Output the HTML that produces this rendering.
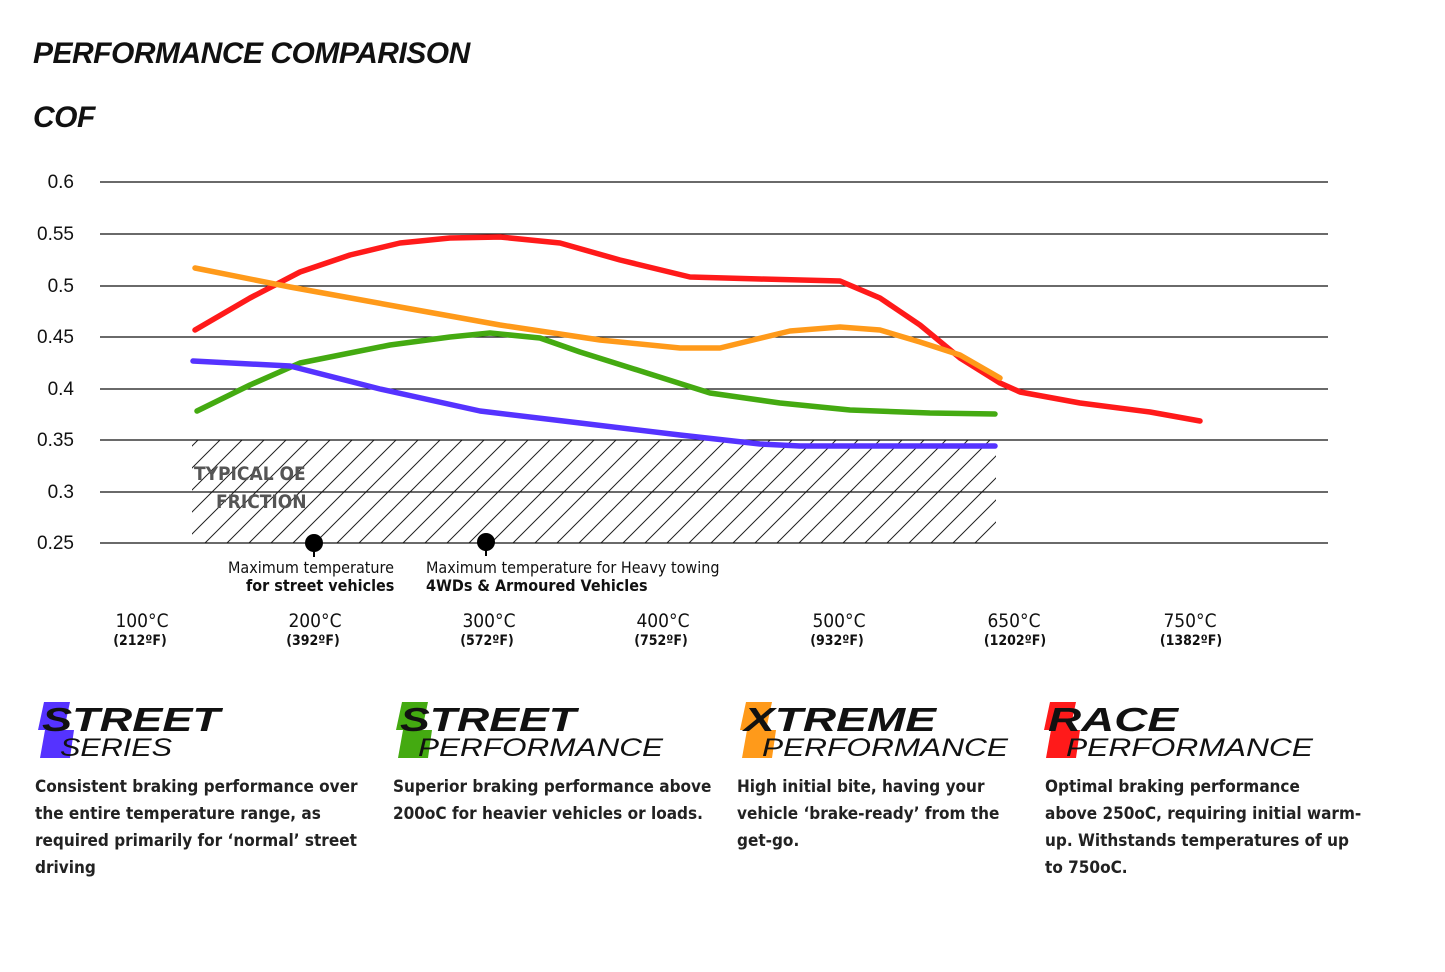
<!DOCTYPE html>
<html><head><style>
body{margin:0;width:1445px;height:972px;background:#fff;font-family:"Liberation Sans",sans-serif;overflow:hidden;position:relative}
.t{position:absolute;font-weight:bold;font-style:italic;font-size:30px;color:#111;letter-spacing:-0.5px}
.desc{position:absolute;font-size:17px;font-weight:bold;color:#222;line-height:27px;font-family:"DejaVu Sans Condensed","Liberation Sans Narrow","Liberation Sans",sans-serif}
</style></head><body>
<div class="t" style="left:33px;top:37px">PERFORMANCE COMPARISON</div>
<div class="t" style="left:33px;top:101px">COF</div>
<svg width="1445" height="972" style="position:absolute;left:0;top:0">
<defs><pattern id="h" width="22" height="22" patternUnits="userSpaceOnUse"><path d="M-2,24 L24,-2 M-24,24 L2,-2 M20,24 L46,-2" stroke="#222" stroke-width="1"/></pattern></defs>
<rect x="192" y="440" width="804" height="103" fill="url(#h)"/>
<g stroke="#111" stroke-width="1.2">
<line x1="100" x2="1328" y1="182" y2="182"/><line x1="100" x2="1328" y1="234" y2="234"/><line x1="100" x2="1328" y1="286" y2="286"/><line x1="100" x2="1328" y1="337" y2="337"/><line x1="100" x2="1328" y1="389" y2="389"/><line x1="100" x2="1328" y1="440" y2="440"/><line x1="100" x2="1328" y1="492" y2="492"/><line x1="100" x2="1328" y1="543" y2="543"/></g>
<g font-family="Liberation Sans" font-size="19" fill="#111" text-anchor="end">
<text x="74" y="188">0.6</text><text x="74" y="240">0.55</text><text x="74" y="292">0.5</text><text x="74" y="343">0.45</text><text x="74" y="395">0.4</text><text x="74" y="446">0.35</text><text x="74" y="498">0.3</text><text x="74" y="549">0.25</text></g>
<g font-family="DejaVu Sans Condensed,Liberation Sans" font-weight="bold" font-size="19" fill="#555"><text x="194" y="480">TYPICAL OE</text><text x="216" y="508">FRICTION</text></g>
<g fill="none" stroke-width="5.5" stroke-linecap="round" stroke-linejoin="round">
<polyline stroke="#ff1a1a" points="195,330 250,298 300,272 350,255 400,243 450,238 500,237 560,243 620,260 690,277 760,279 840,281 880,298 920,325 960,358 1000,383 1020,392 1080,403 1150,412 1200,421"/>
<polyline stroke="#ff9a1a" points="195,268 290,287 400,307 500,325 600,340 680,348 720,348 790,331 840,327 880,330 920,342 960,355 1000,378"/>
<polyline stroke="#44aa11" points="197,411 250,385 300,363 390,345 450,337 490,333 540,338 580,352 650,374 710,393 780,403 850,410 930,413 995,414"/>
<polyline stroke="#5533ff" points="193,361 290,366 380,389 480,411 580,423 680,435 760,444 800,446 995,446"/>
</g>
<circle cx="314" cy="543" r="9" fill="#000"/><line x1="314" y1="543" x2="314" y2="557" stroke="#000" stroke-width="2"/>
<circle cx="486" cy="542" r="9" fill="#000"/><line x1="486" y1="542" x2="486" y2="556" stroke="#000" stroke-width="2"/>
<g font-family="DejaVu Sans Condensed,Liberation Sans" font-size="16" fill="#111">
<text x="228" y="573">Maximum temperature</text><text x="246" y="591" font-weight="bold">for street vehicles</text>
<text x="426" y="573">Maximum temperature for Heavy towing</text><text x="426" y="591" font-weight="bold">4WDs &amp; Armoured Vehicles</text></g>
<g font-family="DejaVu Sans Condensed,Liberation Sans" fill="#111" text-anchor="middle">
<g font-size="19"><text x="142" y="627">100°C</text><text x="315" y="627">200°C</text><text x="489" y="627">300°C</text><text x="663" y="627">400°C</text><text x="839" y="627">500°C</text><text x="1014" y="627">650°C</text><text x="1190" y="627">750°C</text></g>
<g font-size="14" font-weight="bold"><text x="140" y="645">(212ºF)</text><text x="313" y="645">(392ºF)</text><text x="487" y="645">(572ºF)</text><text x="661" y="645">(752ºF)</text><text x="837" y="645">(932ºF)</text><text x="1015" y="645">(1202ºF)</text><text x="1191" y="645">(1382ºF)</text></g></g>
<g>
<polygon points="44,702 70,702 64,730 74,730 70,758 40,758 45,730 38,730" fill="#5533ff"/>
<polygon points="402,702 428,702 422,730 432,730 428,758 398,758 403,730 396,730" fill="#44aa11"/>
<polygon points="746,702 772,702 766,730 776,730 772,758 742,758 747,730 740,730" fill="#ff9a1a"/>
<polygon points="1050,702 1076,702 1070,730 1080,730 1076,758 1046,758 1051,730 1044,730" fill="#ff1a1a"/>
</g>
<g font-family="Liberation Sans" font-style="italic" fill="#111">
<g font-weight="bold" font-size="33"><text x="42" y="731" textLength="178" lengthAdjust="spacingAndGlyphs">STREET</text><text x="400" y="731" textLength="176" lengthAdjust="spacingAndGlyphs">STREET</text><text x="744" y="731" textLength="192" lengthAdjust="spacingAndGlyphs">XTREME</text><text x="1048" y="731" textLength="130" lengthAdjust="spacingAndGlyphs">RACE</text></g>
<g font-size="25"><text x="60" y="756" textLength="112" lengthAdjust="spacingAndGlyphs">SERIES</text><text x="418" y="756" textLength="245" lengthAdjust="spacingAndGlyphs">PERFORMANCE</text><text x="762" y="756" textLength="246" lengthAdjust="spacingAndGlyphs">PERFORMANCE</text><text x="1066" y="756" textLength="247" lengthAdjust="spacingAndGlyphs">PERFORMANCE</text></g></g>
</svg>
<div class="desc" style="left:35px;top:774px">Consistent braking performance over<br>the entire temperature range, as<br>required primarily for ‘normal’ street<br>driving</div>
<div class="desc" style="left:393px;top:774px">Superior braking performance above<br>200oC for heavier vehicles or loads.</div>
<div class="desc" style="left:737px;top:774px">High initial bite, having your<br>vehicle ‘brake-ready’ from the<br>get-go.</div>
<div class="desc" style="left:1045px;top:774px">Optimal braking performance<br>above 250oC, requiring initial warm-<br>up. Withstands temperatures of up<br>to 750oC.</div>
</body></html>
